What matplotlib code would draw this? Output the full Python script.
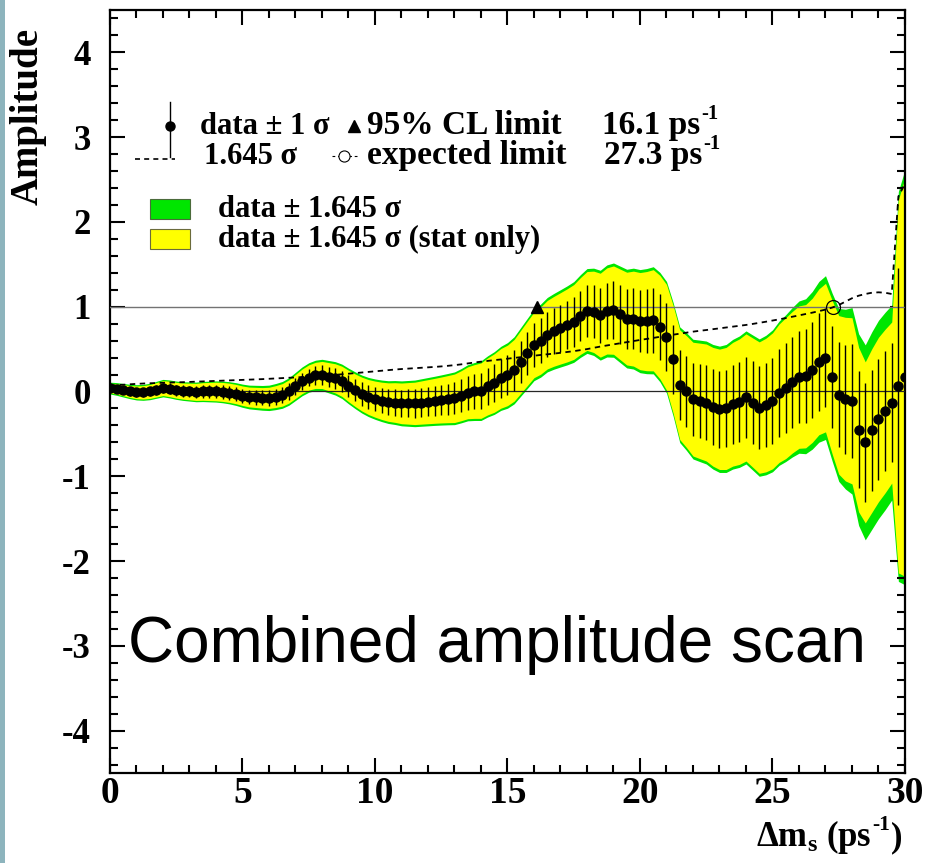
import numpy as np
import matplotlib
matplotlib.use("Agg")
import matplotlib.pyplot as plt
from matplotlib.patches import Rectangle
from matplotlib.lines import Line2D
from matplotlib.ticker import MultipleLocator

plt.rcParams["font.family"] = ["Liberation Serif", "DejaVu Serif"]
plt.rcParams["font.weight"] = "bold"
plt.rcParams["axes.unicode_minus"] = False
plt.rcParams["mathtext.fontset"] = "custom"
plt.rcParams["mathtext.rm"] = "Liberation Serif:bold"
plt.rcParams["mathtext.it"] = "Liberation Serif:bold:italic"
plt.rcParams["mathtext.bf"] = "Liberation Serif:bold"

# scan points in delta m_s (ps^-1)
dm = np.arange(0.0, 30.001, 0.25)

# measured amplitude at each scan point
amp = [
    0.04, 0.03, 0.015, 0.00, -0.01, -0.01, 0.00, 0.02,
    0.04, 0.03, 0.015, 0.005, 0.00, -0.005, 0.00, 0.00,
    0.00, -0.005, -0.015, -0.03, -0.05, -0.065, -0.07, -0.075,
    -0.075, -0.06, -0.04, 0.00, 0.06, 0.12, 0.165, 0.19,
    0.195, 0.175, 0.155, 0.12, 0.065, 0.015, -0.03, -0.065,
    -0.09, -0.11, -0.125, -0.13, -0.14, -0.14, -0.14, -0.13,
    -0.12, -0.11, -0.10, -0.09, -0.08, -0.05, -0.015, 0.00,
    0.01, 0.06, 0.10, 0.155, 0.19, 0.25, 0.35, 0.45,
    0.55, 0.60, 0.67, 0.71, 0.745, 0.78, 0.82, 0.89,
    0.95, 0.94, 0.90, 0.95, 0.96, 0.91, 0.86, 0.86,
    0.83, 0.83, 0.84, 0.76, 0.64, 0.38, 0.08, 0.00,
    -0.09, -0.11, -0.13, -0.18, -0.21, -0.20, -0.15, -0.12,
    -0.07, -0.13, -0.19, -0.16, -0.11, -0.02, 0.04, 0.11,
    0.17, 0.18, 0.25, 0.35, 0.40, 0.17, -0.04, -0.09,
    -0.11, -0.45, -0.60, -0.46, -0.33, -0.23, -0.13, 0.06,
    0.17,
]

# 1.645 sigma, total uncertainty (dashed curve, green band half-width)
sig1645_tot = [
    0.070, 0.075, 0.080, 0.085, 0.090, 0.094, 0.097, 0.100,
    0.103, 0.106, 0.108, 0.110, 0.113, 0.116, 0.119, 0.122,
    0.125, 0.128, 0.131, 0.134, 0.137, 0.140, 0.143, 0.146,
    0.150, 0.154, 0.158, 0.162, 0.166, 0.170, 0.174, 0.179,
    0.185, 0.191, 0.197, 0.203, 0.210, 0.217, 0.224, 0.231,
    0.238, 0.245, 0.252, 0.259, 0.265, 0.270, 0.275, 0.280,
    0.285, 0.290, 0.296, 0.303, 0.311, 0.320, 0.331, 0.342,
    0.352, 0.361, 0.370, 0.378, 0.387, 0.396, 0.405, 0.414,
    0.422, 0.431, 0.439, 0.447, 0.456, 0.466, 0.476, 0.488,
    0.500, 0.515, 0.530, 0.543, 0.556, 0.569, 0.582, 0.595,
    0.608, 0.620, 0.632, 0.645, 0.658, 0.670, 0.682, 0.694,
    0.706, 0.716, 0.725, 0.735, 0.745, 0.755, 0.765, 0.775,
    0.785, 0.797, 0.810, 0.823, 0.837, 0.851, 0.866, 0.882,
    0.898, 0.914, 0.930, 0.948, 0.966, 0.990, 1.020, 1.060,
    1.100, 1.130, 1.150, 1.165, 1.170, 1.165, 1.150, 2.300,
    2.450,
]

# 1.645 sigma, statistical uncertainty only (yellow band half-width)
sig1645_stat = [
    0.055, 0.060, 0.065, 0.070, 0.075, 0.079, 0.082, 0.085,
    0.088, 0.091, 0.093, 0.095, 0.098, 0.101, 0.104, 0.107,
    0.110, 0.112, 0.113, 0.114, 0.115, 0.117, 0.119, 0.121,
    0.125, 0.129, 0.133, 0.137, 0.141, 0.145, 0.149, 0.154,
    0.160, 0.166, 0.172, 0.178, 0.185, 0.192, 0.199, 0.206,
    0.213, 0.220, 0.227, 0.234, 0.240, 0.245, 0.250, 0.255,
    0.260, 0.265, 0.271, 0.278, 0.286, 0.295, 0.306, 0.317,
    0.327, 0.336, 0.345, 0.352, 0.357, 0.364, 0.372, 0.380,
    0.387, 0.396, 0.404, 0.412, 0.421, 0.431, 0.441, 0.453,
    0.465, 0.480, 0.495, 0.508, 0.521, 0.534, 0.547, 0.560,
    0.573, 0.585, 0.597, 0.610, 0.623, 0.635, 0.647, 0.659,
    0.671, 0.681, 0.690, 0.700, 0.710, 0.720, 0.730, 0.740,
    0.750, 0.762, 0.775, 0.788, 0.802, 0.816, 0.831, 0.835,
    0.840, 0.845, 0.850, 0.860, 0.876, 0.905, 0.935, 0.965,
    0.980, 0.970, 0.950, 0.965, 0.970, 0.965, 0.950, 2.200,
    2.350,
]

cl95_limit = 16.1
expected_limit = 27.3

amp = np.array(amp)
sig_tot = np.array(sig1645_tot)
sig_stat = np.array(sig1645_stat)

W, H = 929, 863
fig = plt.figure(figsize=(W / 100, H / 100), dpi=100)
fig.patch.set_facecolor("white")
ax = fig.add_axes([110 / W, 1 - 773 / H, 795 / W, 763 / H])

GREEN = "#00e600"
YELLOW = "#ffff00"

ax.fill_between(dm, amp - sig_tot, amp + sig_tot, color=GREEN, lw=0, zorder=1)
ax.fill_between(dm, amp - sig_stat, amp + sig_stat, color=YELLOW, lw=0, zorder=2)

ax.axhline(1.0, color="0.45", lw=1.0, zorder=3)
ax.axhline(0.0, color="0.15", lw=0.9, zorder=3)

ax.plot(dm, sig_tot, color="black", lw=1.3, ls=(0, (3, 2.5)), zorder=4)
ax.errorbar(dm, amp, yerr=sig_tot / 1.645, fmt="o", color="black",
            ms=6.5, elinewidth=1.0, capsize=0, zorder=5)

ax.plot([cl95_limit], [1.0], marker="^", ms=9, color="black", zorder=6)
ax.plot([expected_limit], [1.0], marker="o", ms=10, mfc="none",
        mec="black", mew=0.9, zorder=6)

ax.set_xlim(0, 30)
ax.set_ylim(-4.5, 4.5)
ax.xaxis.set_major_locator(MultipleLocator(5))
ax.xaxis.set_minor_locator(MultipleLocator(1))
ax.yaxis.set_major_locator(MultipleLocator(1))
ax.yaxis.set_minor_locator(MultipleLocator(0.2))
ax.tick_params(which="both", direction="in", top=True, right=True, width=1.5)
ax.tick_params(which="major", length=11)
ax.tick_params(which="minor", length=6)
ax.tick_params(axis="y", labelsize=25, pad=14)
ax.tick_params(axis="x", labelsize=27, pad=2)
for s in ax.spines.values():
    s.set_linewidth(1.6)

renderer = fig.canvas.get_renderer()


def fx(x):
    return x / W


def fy(y):
    return 1 - y / H


def text_with_sup(x, y, base, sup, fs, tail=""):
    """Draw base text with a small raised suffix, then an optional tail."""
    t = fig.text(fx(x), fy(y), base, fontsize=fs, fontweight="bold")
    x1 = t.get_window_extent(renderer).x1
    s = fig.text((x1 + 1) / W, fy(y) + 0.45 * fs * 1.389 / H, sup,
                 fontsize=fs * 0.62, fontweight="bold")
    if tail:
        x2 = s.get_window_extent(renderer).x1
        fig.text((x2 + 1) / W, fy(y), tail, fontsize=fs, fontweight="bold")


# legend, drawn in figure pixel positions
fs = 22
fs_r = 24
fig.add_artist(Line2D([fx(170), fx(170)], [fy(102), fy(157)], color="black", lw=1.0))
fig.add_artist(Line2D([fx(170)], [fy(126)], marker="o", ms=6.5, color="black"))
fig.text(fx(200), fy(134), "data ± 1 σ", fontsize=fs, fontweight="bold")
fig.add_artist(Line2D([fx(354)], [fy(126)], marker="^", ms=8, color="black"))
fig.text(fx(367), fy(134), "95% CL limit", fontsize=fs_r, fontweight="bold")
text_with_sup(602, 134, "16.1 ps", "-1", fs_r)

fig.add_artist(Line2D([fx(135), fx(175)], [fy(159), fy(159)], color="black",
                      lw=1.2, ls=(0, (3, 2.5))))
fig.text(fx(204), fy(164), "1.645 σ", fontsize=fs, fontweight="bold")
fig.add_artist(Line2D([fx(332), fx(357)], [fy(156), fy(156)], color="black",
                      lw=0.8, ls=(0, (2.5, 2.5))))
fig.add_artist(Line2D([fx(344.5)], [fy(156)], marker="o", ms=8, mfc="white",
                      mec="black", mew=0.8))
fig.text(fx(367), fy(164), "expected limit", fontsize=fs_r, fontweight="bold")
text_with_sup(604, 164, "27.3 ps", "-1", fs_r)

fig.add_artist(Rectangle((fx(150), fy(219)), 40 / W, 20 / H, transform=fig.transFigure,
                         facecolor=GREEN, edgecolor="#4b6b3b", lw=0.8))
fig.add_artist(Rectangle((fx(150), fy(249)), 40 / W, 20 / H, transform=fig.transFigure,
                         facecolor=YELLOW, edgecolor="#6b6b3b", lw=0.8))
fig.text(fx(218), fy(217), "data ± 1.645 σ", fontsize=fs, fontweight="bold")
fig.text(fx(218), fy(247), "data ± 1.645 σ (stat only)", fontsize=fs, fontweight="bold")

fig.text(fx(128), fy(662), "Combined amplitude scan", fontsize=46,
         fontweight="normal", family="Liberation Sans", color="black")

fig.text(fx(28), fy(28), "Amplitude", rotation=90, ha="center", va="top",
         fontsize=28, fontweight="bold")

text_with_sup(756, 846, "Δm$_{\\rm s}$ (ps", "-1", 25, tail=")")

fig.add_artist(Rectangle((0, 0), 5 / W, 1, transform=fig.transFigure,
                         facecolor="#8db4bd", edgecolor="none"))

fig.savefig("out.png", dpi=100)
